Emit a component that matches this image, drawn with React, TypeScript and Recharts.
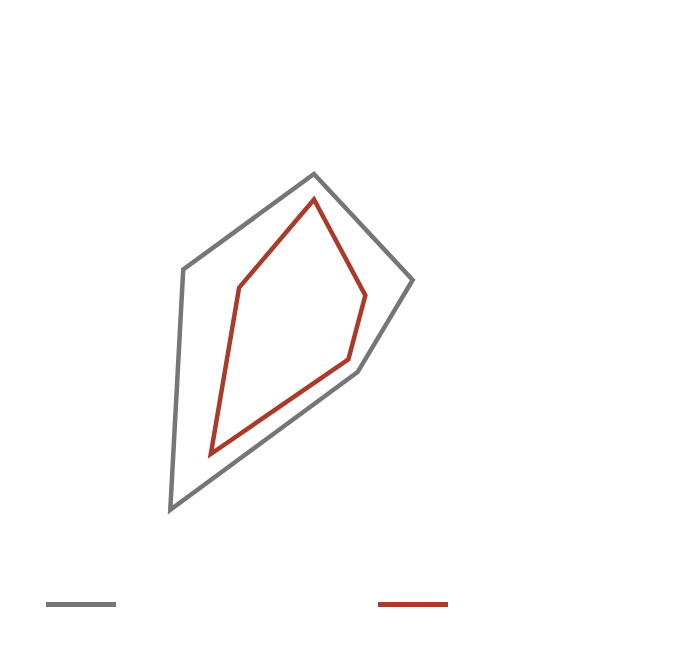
import { RadarChart, Radar, PolarGrid, PolarAngleAxis, PolarRadiusAxis, Legend } from 'recharts'

// categories round the radar (labels are drawn white in the reference)
const categories = ['A', 'B', 'C', 'D', 'E']
const seriesOne = [55.2, 41.5, 29.7, 97.8, 55]
const seriesTwo = [45, 21.6, 23.4, 70.2, 31.5]
const radiusTicks = [0, 25, 50, 75, 100]

const data = categories.map((c, i) => ({ category: c, one: seriesOne[i], two: seriesTwo[i] }))

const GRAY = '#767676'
const RED = '#AA3A2A'

// legend: thick line swatch followed by a white label
const LineLegend = ({ payload }: any) => (
  <div style={{ display: 'flex' }}>
    {(payload || []).map((p: any) => (
      <div key={p.value} style={{ width: 332, display: 'flex', alignItems: 'center', gap: 8 }}>
        <div style={{ width: 70, height: 5, backgroundColor: p.color }} />
        <span style={{ color: '#FFFFFF', fontSize: 14, fontFamily: 'DejaVu Sans' }}>{p.value}</span>
      </div>
    ))}
  </div>
)

export default function App() {
  return (
    <RadarChart
      width={684}
      height={640}
      data={data}
      cx={306}
      cy={304}
      outerRadius={250}
      startAngle={90}
      endAngle={-270}
      style={{ fontFamily: 'DejaVu Sans' }}
    >
      <PolarGrid stroke="#FFFFFF" />
      <PolarAngleAxis dataKey="category" tick={{ fill: '#FFFFFF', fontSize: 14 }} axisLine={false} tickLine={false} />
      <PolarRadiusAxis
        angle={118}
        domain={[0, 100]}
        ticks={radiusTicks as any}
        axisLine={false}
        tick={{ fill: '#FFFFFF', fontSize: 14 }}
      />
      <Radar
        name="Series 1"
        dataKey="one"
        stroke={GRAY}
        strokeWidth={4.5}
        fill="none"
        fillOpacity={0}
        dot={false}
        isAnimationActive={false}
      />
      <Radar
        name="Series 2"
        dataKey="two"
        stroke={RED}
        strokeWidth={4.5}
        fill="none"
        fillOpacity={0}
        dot={false}
        isAnimationActive={false}
      />
      <Legend
        content={<LineLegend />}
        wrapperStyle={{ left: 38, top: 588, width: 664, height: 20 }}
      />
    </RadarChart>
  )
}
